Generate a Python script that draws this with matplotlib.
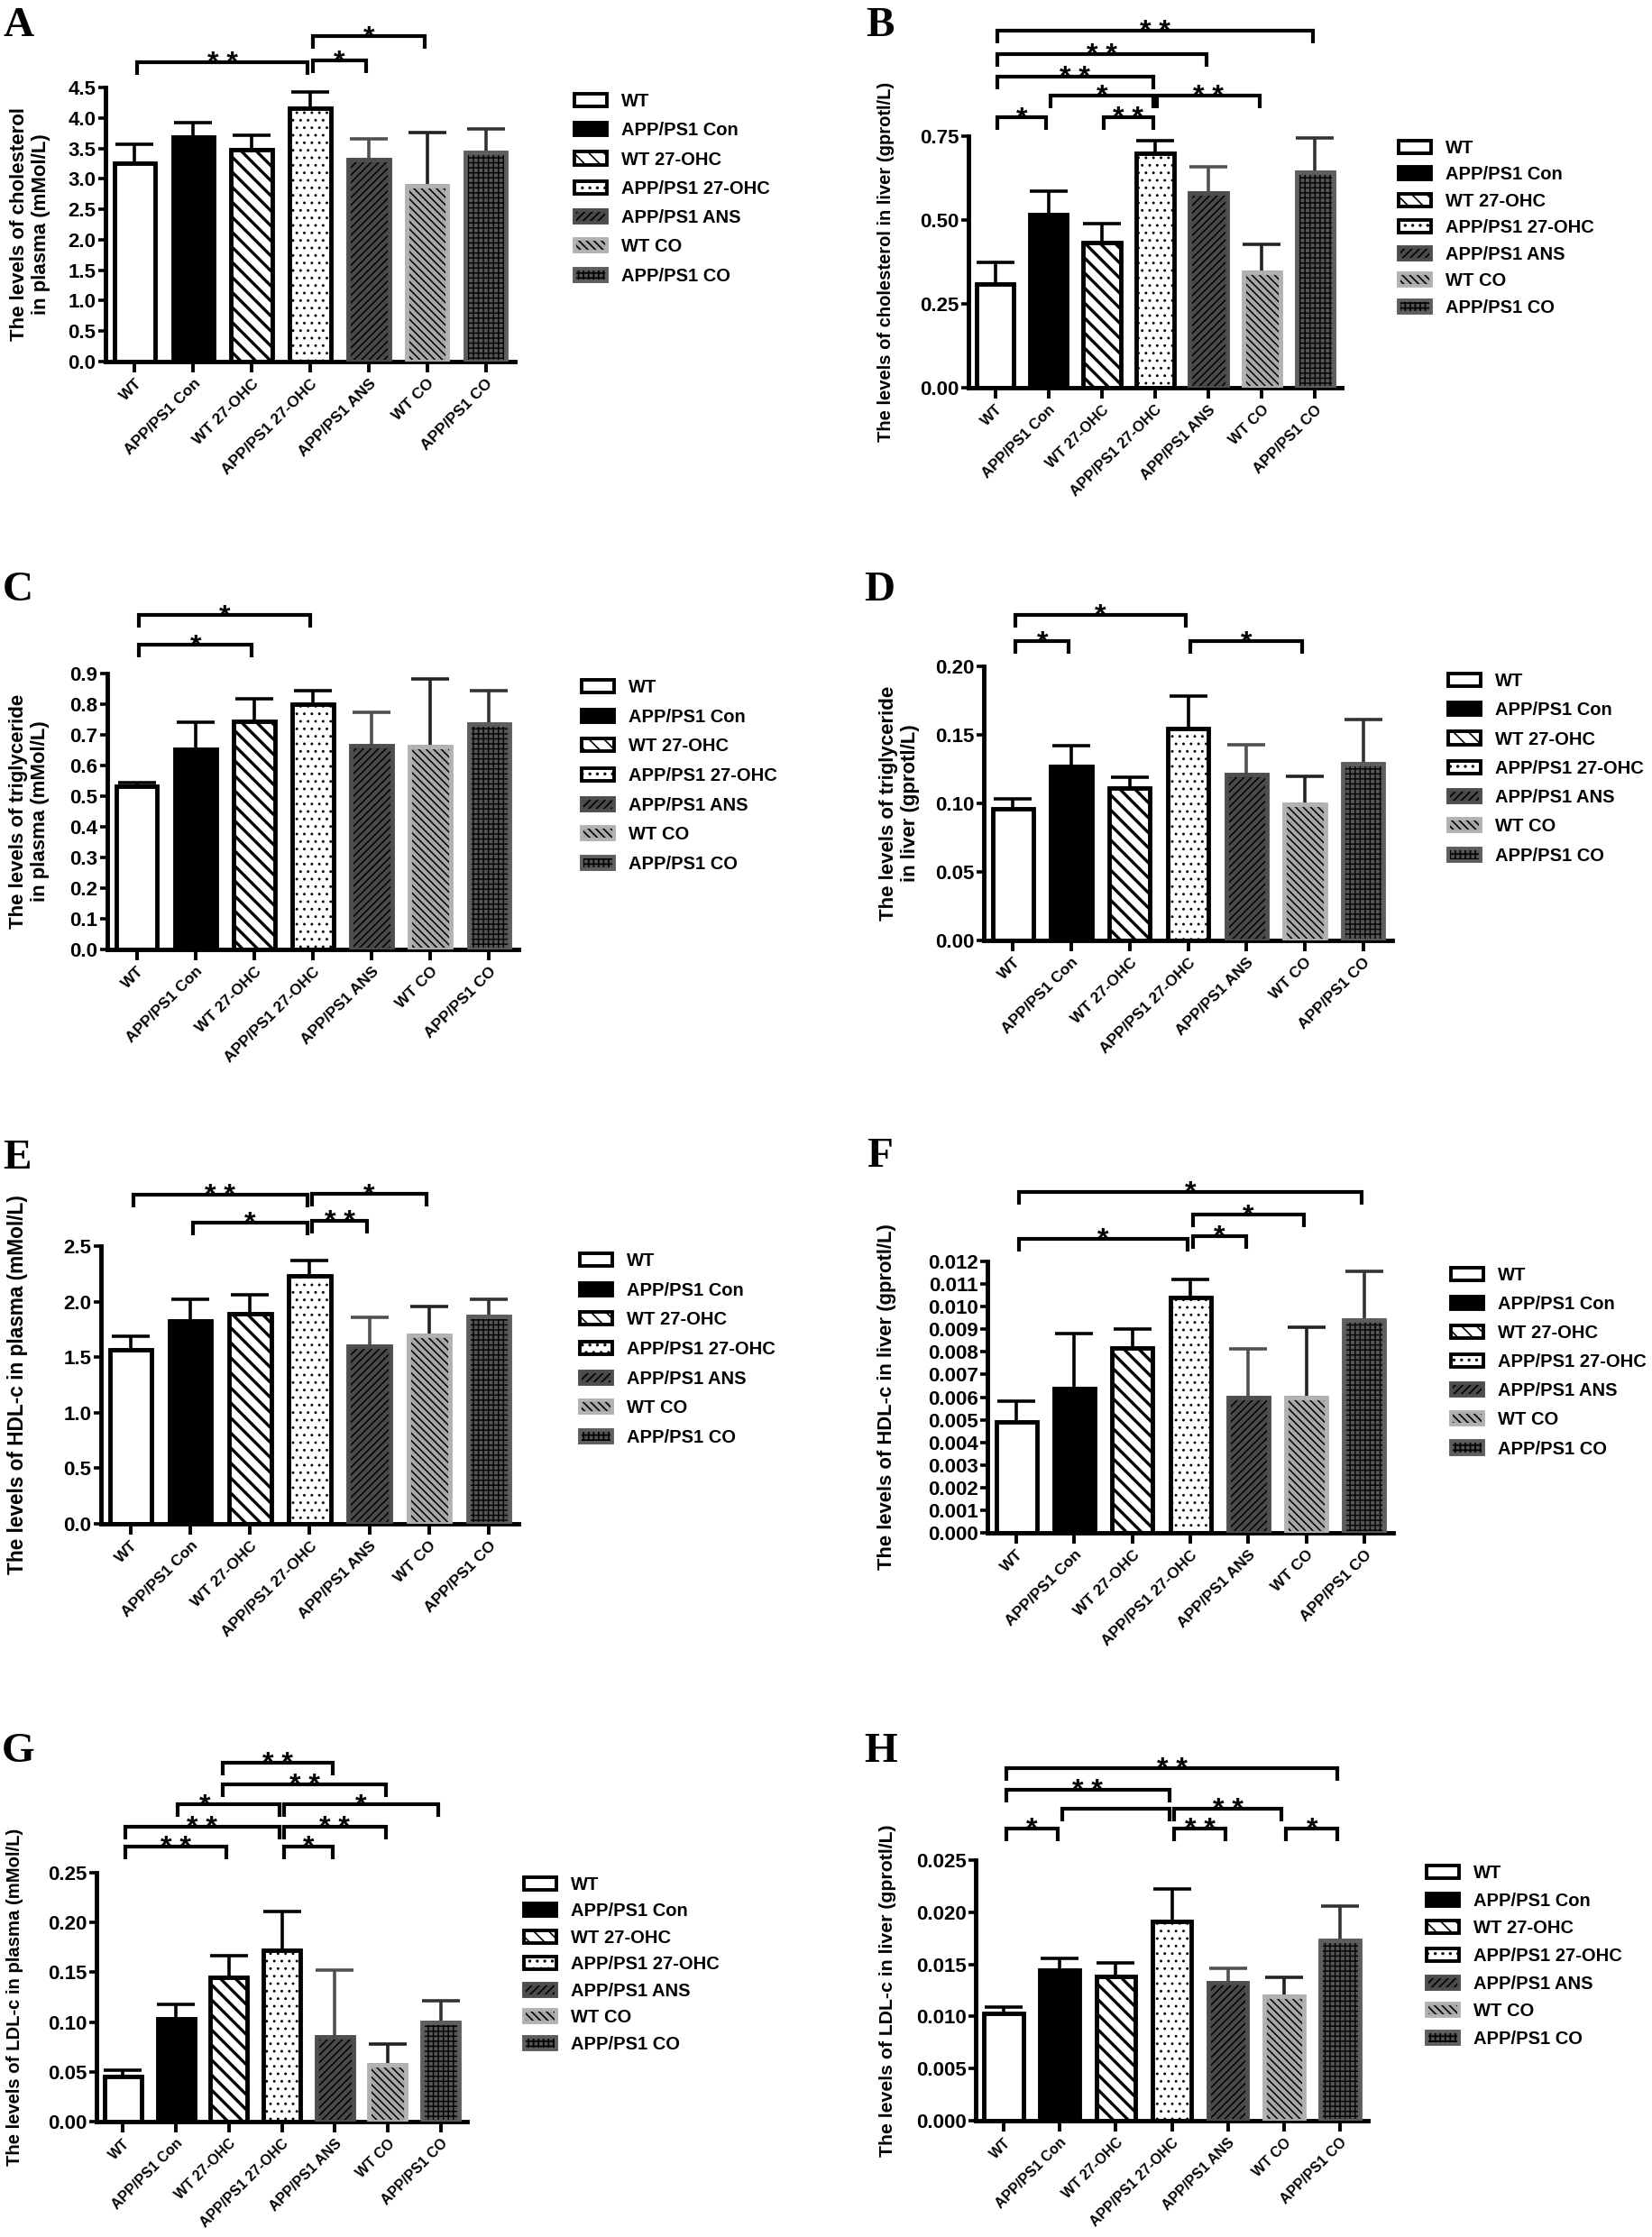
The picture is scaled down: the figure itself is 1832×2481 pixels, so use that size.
import matplotlib
matplotlib.use("Agg")
import numpy as np
import matplotlib.pyplot as plt
from matplotlib.patches import Patch
from matplotlib.legend_handler import HandlerTuple
from matplotlib.ticker import FormatStrFormatter

plt.rcParams['font.family'] = ['Liberation Sans', 'DejaVu Sans']
plt.rcParams['font.weight'] = 'bold'
plt.rcParams['axes.labelweight'] = 'bold'
plt.rcParams['hatch.linewidth'] = 1.2

groups = ["WT", "APP/PS1 Con", "WT 27-OHC", "APP/PS1 27-OHC",
          "APP/PS1 ANS", "WT CO", "APP/PS1 CO"]

# ---- values (mean, SD) ----
# significance brackets: (from group, to group, height in data units, label[, label x])
chol_plasma = [3.26, 3.69, 3.48, 4.16, 3.31, 2.89, 3.44]
chol_plasma_sd = [0.31, 0.23, 0.24, 0.26, 0.35, 0.87, 0.38]
chol_plasma_sig = [(0, 3, 4.91, '* *'), (3, 4, 4.94, '*'), (3, 5, 5.34, '*')]

chol_liver = [0.310, 0.516, 0.433, 0.700, 0.580, 0.344, 0.642]
chol_liver_sd = [0.063, 0.070, 0.056, 0.037, 0.078, 0.083, 0.102]
chol_liver_sig = [(0, 6, 1.065, '* *'), (0, 4, 0.995, '* *'), (0, 3, 0.927, '* *'),
                  (1, 3, 0.871, '*'), (3, 5, 0.871, '* *'), (0, 1, 0.806, '*'),
                  (2, 3, 0.806, '* *')]

tg_plasma = [0.532, 0.653, 0.744, 0.800, 0.665, 0.662, 0.735]
tg_plasma_sd = [0.012, 0.088, 0.074, 0.044, 0.109, 0.220, 0.109]
tg_plasma_sig = [(0, 3, 1.091, '*'), (0, 2, 0.994, '*')]

tg_liver = [0.0962, 0.127, 0.111, 0.1546, 0.121, 0.0993, 0.129]
tg_liver_sd = [0.0068, 0.015, 0.008, 0.0234, 0.022, 0.0207, 0.032]
tg_liver_sig = [(0, 3, 0.2375, '*'), (0, 1, 0.2184, '*'), (3, 5, 0.2184, '*')]

hdl_plasma = [1.57, 1.83, 1.89, 2.23, 1.60, 1.70, 1.87]
hdl_plasma_sd = [0.12, 0.19, 0.17, 0.14, 0.26, 0.26, 0.15]
hdl_plasma_sig = [(0, 3, 2.963, '* *'), (3, 5, 2.97, '*'), (1, 3, 2.711, '*'),
                  (3, 4, 2.727, '* *')]

hdl_liver = [0.00491, 0.00638, 0.00819, 0.0104, 0.00598, 0.00598, 0.00941]
hdl_liver_sd = [0.00091, 0.00243, 0.00081, 0.0008, 0.00215, 0.0031, 0.00217]
hdl_liver_sig = [(0, 6, 0.01507, '*'), (3, 5, 0.01407, '*'), (0, 3, 0.0130, '*'),
                 (3, 4, 0.01312, '*')]

ldl_plasma = [0.0456, 0.103, 0.145, 0.1725, 0.085, 0.057, 0.100]
ldl_plasma_sd = [0.0059, 0.015, 0.022, 0.0385, 0.067, 0.021, 0.0215]
ldl_plasma_sig = [(1.85, 4, 0.3605, '* *'), (1.85, 5, 0.3388, '* *'),
                  (1, 3, 0.3188, '*', 1.55), (3, 6, 0.3188, '*'),
                  (0, 3, 0.2962, '* *'), (3, 5, 0.2962, '* *'),
                  (0, 2, 0.2763, '* *'), (3, 4, 0.2763, '*')]

ldl_liver = [0.0103, 0.01444, 0.01384, 0.0191, 0.01324, 0.0119, 0.0173]
ldl_liver_sd = [0.0006, 0.00116, 0.0013, 0.0031, 0.00136, 0.00185, 0.0033]
ldl_liver_sig = [(0, 6, 0.03382, '* *'), (0, 3, 0.03175, '* *'), (1, 3, 0.02993, ''),
                 (3, 5, 0.02993, '* *'), (0, 1, 0.02803, '*'), (3, 4, 0.02803, '* *'),
                 (5, 6, 0.02803, '*')]

panels = [
    dict(letter='A', mean=chol_plasma, sd=chol_plasma_sd, sig=chol_plasma_sig,
         top=4.5, nticks=9, fmt='%.1f',
         ylabel='The levels of cholesterol\nin plasma (mMol/L)'),
    dict(letter='B', mean=chol_liver, sd=chol_liver_sd, sig=chol_liver_sig,
         top=0.75, nticks=3, fmt='%.2f',
         ylabel='The levels of cholesterol in liver (gprotl/L)'),
    dict(letter='C', mean=tg_plasma, sd=tg_plasma_sd, sig=tg_plasma_sig,
         top=0.9, nticks=9, fmt='%.1f',
         ylabel='The levels of triglyceride\nin plasma (mMol/L)'),
    dict(letter='D', mean=tg_liver, sd=tg_liver_sd, sig=tg_liver_sig,
         top=0.20, nticks=4, fmt='%.2f',
         ylabel='The levels of triglyceride\nin liver (gprotl/L)'),
    dict(letter='E', mean=hdl_plasma, sd=hdl_plasma_sd, sig=hdl_plasma_sig,
         top=2.5, nticks=5, fmt='%.1f',
         ylabel='The levels of HDL-c in plasma (mMol/L)'),
    dict(letter='F', mean=hdl_liver, sd=hdl_liver_sd, sig=hdl_liver_sig,
         top=0.012, nticks=12, fmt='%.3f',
         ylabel='The levels of HDL-c in liver (gprotl/L)'),
    dict(letter='G', mean=ldl_plasma, sd=ldl_plasma_sd, sig=ldl_plasma_sig,
         top=0.25, nticks=5, fmt='%.2f',
         ylabel='The levels of LDL-c in plasma (mMol/L)'),
    dict(letter='H', mean=ldl_liver, sd=ldl_liver_sd, sig=ldl_liver_sig,
         top=0.025, nticks=5, fmt='%.3f',
         ylabel='The levels of LDL-c in liver (gprotl/L)'),
]

# ---- layout in pixels of the 1832x2481 canvas ----
# axes (left, top, right, bottom), ylabel x (axes frac), letter (x, baseline),
# legend (left, first row centre), legend row spacing, ylabel size, x label size
layout = [
    dict(rect=(117, 97, 571, 401), ylab=-0.134, let=(3, 40), leg=(637, 116), ls=0.66, yfs=16, xfs=12.5),
    dict(rect=(1074, 151, 1488, 430), ylab=-0.198, let=(960, 40), leg=(1551, 168), ls=0.52, yfs=14.5, xfs=12),
    dict(rect=(119, 747, 575, 1053), ylab=-0.140, let=(3, 666), leg=(645, 766), ls=0.68, yfs=16, xfs=12.5),
    dict(rect=(1091, 739, 1544, 1043), ylab=-0.157, let=(958, 666), leg=(1606, 759), ls=0.66, yfs=16, xfs=12.5),
    dict(rect=(112, 1382, 575, 1690), ylab=-0.175, let=(3, 1296), leg=(643, 1402), ls=0.68, yfs=16.3, xfs=12.5),
    dict(rect=(1095, 1399, 1545, 1700), ylab=-0.224, let=(961, 1294), leg=(1609, 1418), ls=0.65, yfs=15.8, xfs=12.5),
    dict(rect=(107, 2077, 518, 2353), ylab=-0.197, let=(2, 1954), leg=(581, 2094), ls=0.52, yfs=14.6, xfs=11.5),
    dict(rect=(1082, 2063, 1517, 2352), ylab=-0.202, let=(958, 1954), leg=(1582, 2081), ls=0.58, yfs=15.3, xfs=11.5),
]

# ---- bar styles per group ----
bar_face = ['white', 'black', 'white', 'white', '#4a4a4a', '#a8a8a8', '#555555']
bar_edge = ['black', 'black', 'black', 'black', '#4e4e4e', '#b2b2b2', '#5e5e5e']
bar_hatch = [None, None, '\\\\', '..', '////', '\\\\\\\\', '+++']
hatch_lw = [1.0, 1.0, 2.4, 0.9, 1.1, 1.1, 1.0]
err_color = ['black', 'black', 'black', 'black', '#505050', '#222222', '#333333']
BAR_W = 0.7

W, H = 1832, 2481
fig = plt.figure(figsize=(W / 100, H / 100), dpi=100)


def set_hatch_width(patch, w):
    if hasattr(patch, 'set_hatch_linewidth'):
        patch.set_hatch_linewidth(w)


def legend_handles():
    handles = []
    for i in range(len(groups)):
        fill = Patch(facecolor=bar_face[i], edgecolor='black', linewidth=0,
                     hatch=bar_hatch[i])
        set_hatch_width(fill, hatch_lw[i])
        edge = Patch(fill=False, edgecolor=bar_edge[i], linewidth=2.8)
        handles.append((fill, edge))
    return handles


def bracket(ax, sig, leg):
    i, j, y, label = sig[:4]
    x1, x2 = i + 0.04, j - 0.04
    ax.plot([x1, x1, x2, x2], [y - leg, y, y, y - leg], color='black', lw=3,
            clip_on=False, solid_joinstyle='miter', solid_capstyle='butt')
    if label:
        lx = sig[4] if len(sig) > 4 else (x1 + x2) / 2
        ax.annotate(label, xy=(lx, y), xytext=(0, -7), textcoords='offset points',
                    ha='center', va='baseline', fontsize=23, annotation_clip=False)


for p, lay in zip(panels, layout):
    l, t, r, b = lay['rect']
    ax = fig.add_axes([l / W, 1 - b / H, (r - l) / W, (b - t) / H])
    x = np.arange(len(groups))
    mean = np.asarray(p['mean'])
    sd = np.asarray(p['sd'])

    for i in range(len(groups)):
        ax.errorbar(x[i], mean[i], yerr=[[0], [sd[i]]], fmt='none',
                    ecolor=err_color[i], elinewidth=2.6, capsize=15,
                    capthick=2.6, zorder=1)

    fills = ax.bar(x, mean, BAR_W, color=bar_face, edgecolor='black',
                   linewidth=0, zorder=2)
    for patch, h, hw in zip(fills, bar_hatch, hatch_lw):
        if h:
            patch.set_hatch(h)
            set_hatch_width(patch, hw)
    ax.bar(x, mean, BAR_W, fill=False, edgecolor=bar_edge, linewidth=3.5, zorder=3)

    ax.set_xlim(-0.5, 6.5)
    ax.set_ylim(0, p['top'])
    ax.set_yticks(np.linspace(0, p['top'], p['nticks'] + 1))
    ax.yaxis.set_major_formatter(FormatStrFormatter(p['fmt']))
    ax.set_xticks(x)
    ax.set_xticklabels(groups, rotation=45, ha='right', rotation_mode='anchor',
                       fontsize=lay['xfs'])
    ax.tick_params(axis='y', labelsize=16, length=6, width=2.6, pad=1.5)
    ax.tick_params(axis='x', length=8.5, width=2.8, pad=3.5)
    for s in ['top', 'right']:
        ax.spines[s].set_visible(False)
    for s in ['left', 'bottom']:
        ax.spines[s].set_linewidth(3.5)
        ax.spines[s].set_capstyle('projecting')

    ax.set_ylabel(p['ylabel'], fontsize=lay['yfs'])
    ax.yaxis.set_label_coords(lay['ylab'], 0.5)

    leg = 14 * p['top'] / (b - t)
    for sig in p['sig']:
        bracket(ax, sig, leg)

    lx, ly = lay['leg']
    ax.legend(legend_handles(), groups, loc='upper left',
              bbox_to_anchor=(lx / W, 1 - (ly - 13) / H),
              bbox_transform=fig.transFigure, frameon=False, fontsize=14.5,
              handlelength=1.8, handleheight=0.7, handletextpad=0.8,
              labelspacing=lay['ls'], borderpad=0, borderaxespad=0,
              handler_map={tuple: HandlerTuple(ndivide=1, pad=0)})

    tx, ty = lay['let']
    fig.text(tx / W, 1 - ty / H, p['letter'], family=['Liberation Serif', 'DejaVu Serif'],
             fontsize=34, weight='bold', ha='left', va='baseline')

fig.savefig('out.png', dpi=100)
